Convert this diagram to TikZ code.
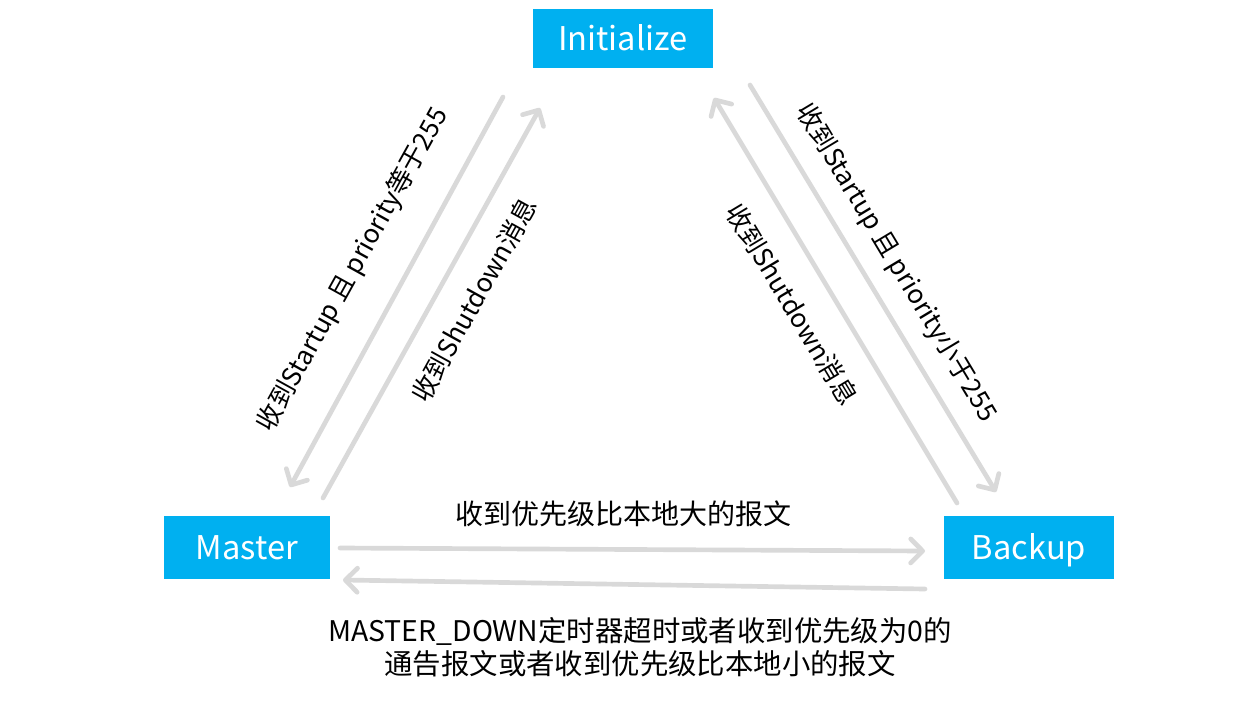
\documentclass[tikz,border=0pt]{standalone}
\usepackage{fontspec}
\setmainfont{Noto Sans CJK SC}
\usetikzlibrary{arrows.meta}
\definecolor{boxblue}{HTML}{00B0F0}
\definecolor{arrgray}{HTML}{D9D9D9}
\begin{document}
\begin{tikzpicture}[x=0.75pt,y=-0.75pt,
  state/.style={fill=boxblue,text=white,inner sep=0pt,text height=19.5pt,text depth=1.5pt,
    font=\fontsize{24.5}{30}\selectfont},
  arr/.style={draw=arrgray,line width=3.5pt,line cap=round,
    -{Straight Barb[length=9pt,width=18pt,line width=3.5pt,round]}},
  lbl/.style={inner sep=0pt,font=\fontsize{19.5}{22}\selectfont}]
\fill[white] (0,0) rectangle (1260,700);
\useasboundingbox (0,0) rectangle (1260,700);
% states
\node[state,minimum width=135pt,minimum height=44.25pt] (init) at (623,38.5) {Initialize};
\node[state,minimum width=124.5pt,minimum height=47.25pt] (master) at (247,547.5) {Master};
\node[state,minimum width=127.5pt,minimum height=47.25pt] (backup) at (1029,547.5) {Backup};
% arrow end points
\coordinate (a1s) at (503,97);  \coordinate (a1e) at (290,487);
\coordinate (a2s) at (323,498); \coordinate (a2e) at (540,108);
\coordinate (a3s) at (957,503); \coordinate (a3e) at (714,98);
\coordinate (a4s) at (750,85);  \coordinate (a4e) at (996,492);
\coordinate (a5s) at (340,548); \coordinate (a5e) at (925,551);
\coordinate (a6s) at (925,589); \coordinate (a6e) at (343,580);
\draw[arr] (a1s) -- (a1e);
\draw[arr] (a2s) -- (a2e);
\draw[arr] (a3s) -- (a3e);
\draw[arr] (a4s) -- (a4e);
\draw[arr] (a5s) -- (a5e);
\draw[arr] (a6s) -- (a6e);
% labels
\node[lbl,rotate=61] (l1) at (353,270) {收到Startup 且 priority等于255};
\node[lbl,rotate=61] (l2) at (474,300) {收到Shutdown消息};
\node[lbl,rotate=-59] (l3) at (896,263) {收到Startup 且 priority小于255};
\node[lbl,rotate=-59] (l4) at (792,304) {收到Shutdown消息};
\node[inner sep=0pt,font=\fontsize{21}{24}\selectfont] (l5) at (623,514) {收到优先级比本地大的报文};
\node[inner sep=0pt,align=center,font=\fontsize{21.3}{25}\selectfont] (l6) at (640,647)
  {MASTER\_DOWN定时器超时或者收到优先级为0的\\通告报文或者收到优先级比本地小的报文};
\end{tikzpicture}
\end{document}
